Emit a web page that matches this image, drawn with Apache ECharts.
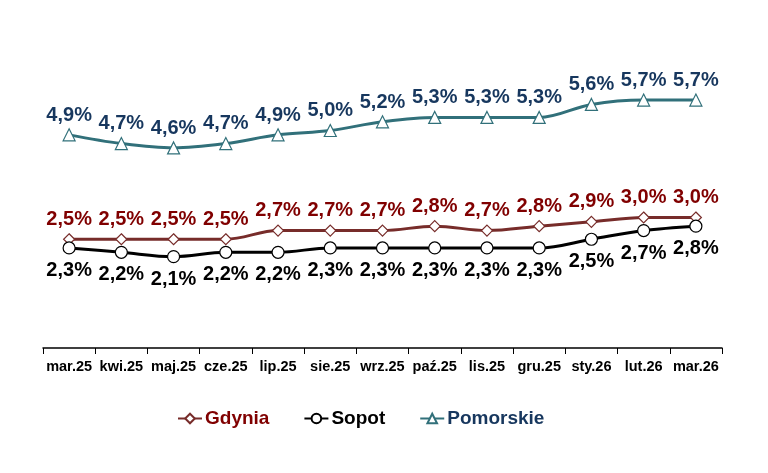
<!DOCTYPE html>
<html>
<head>
<meta charset="utf-8">
<script src="https://cdn.jsdelivr.net/npm/echarts@6/dist/echarts.min.js"></script>
<style>
  html, body { margin: 0; padding: 0; background: #fff; }
  #chart { width: 768px; height: 473px; }
</style>
</head>
<body>
<div id="chart"></div>
<script>
const months = ["mar.25", "kwi.25", "maj.25", "cze.25", "lip.25", "sie.25", "wrz.25",
  "paź.25", "lis.25", "gru.25", "sty.26", "lut.26", "mar.26"];
const gdynia = [2.5, 2.5, 2.5, 2.5, 2.7, 2.7, 2.7, 2.8, 2.7, 2.8, 2.9, 3.0, 3.0];
const sopot = [2.3, 2.2, 2.1, 2.2, 2.2, 2.3, 2.3, 2.3, 2.3, 2.3, 2.5, 2.7, 2.8];
const pomorskie = [4.9, 4.7, 4.6, 4.7, 4.9, 5.0, 5.2, 5.3, 5.3, 5.3, 5.6, 5.7, 5.7];

const fmt = p => p.value.toFixed(1).replace(".", ",") + "%";

function line(name, data, color, textColor, symbol, size, pos, dist) {
  return {
    name: name,
    type: "line",
    data: data,
    smooth: 0.35,
    symbol: symbol,
    symbolSize: size,
    lineStyle: { color: color, width: 3 },
    itemStyle: { color: "#fff", borderColor: color, borderWidth: 1.2 },
    label: {
      show: true,
      position: pos,
      distance: dist,
      formatter: fmt,
      color: textColor,
      fontFamily: "Liberation Sans, Arial",
      fontWeight: "bold",
      fontSize: 20
    }
  };
}

const chart = echarts.init(document.getElementById("chart"));
chart.setOption({
  animation: false,
  grid: { left: 43, right: 46, top: 43.5, bottom: 125 },
  legend: {
    bottom: 40,
    left: 172,
    itemGap: 34,
    itemWidth: 24,
    itemHeight: 12,
    textStyle: { fontFamily: "Liberation Sans, Arial", fontWeight: "bold", fontSize: 19, padding: [0, 0, 0, -2] },
    data: [
      { name: "Gdynia", textStyle: { color: "#800000" } },
      { name: "Sopot", textStyle: { color: "#000" } },
      { name: "Pomorskie", textStyle: { color: "#17375E" } }
    ]
  },
  xAxis: {
    type: "category",
    data: months,
    axisLine: { lineStyle: { color: "#000", width: 1.5 } },
    axisTick: { show: true, interval: 0, length: 6, lineStyle: { color: "#000" } },
    axisLabel: {
      interval: 0,
      color: "#000",
      fontFamily: "Liberation Sans, Arial",
      fontWeight: "bold",
      fontSize: 14.5,
      margin: 11
    }
  },
  yAxis: {
    type: "value",
    min: 0,
    max: 7,
    show: false,
    splitLine: { show: false }
  },
  series: [
    line("Gdynia", gdynia, "#772C2A", "#800000", "diamond", 11, "top", 4),
    line("Sopot", sopot, "#000000", "#000000", "circle", 12, "bottom", 6),
    line("Pomorskie", pomorskie, "#31707A", "#17375E", "triangle", 12, "top", 3)
  ]
});
</script>
</body>
</html>
